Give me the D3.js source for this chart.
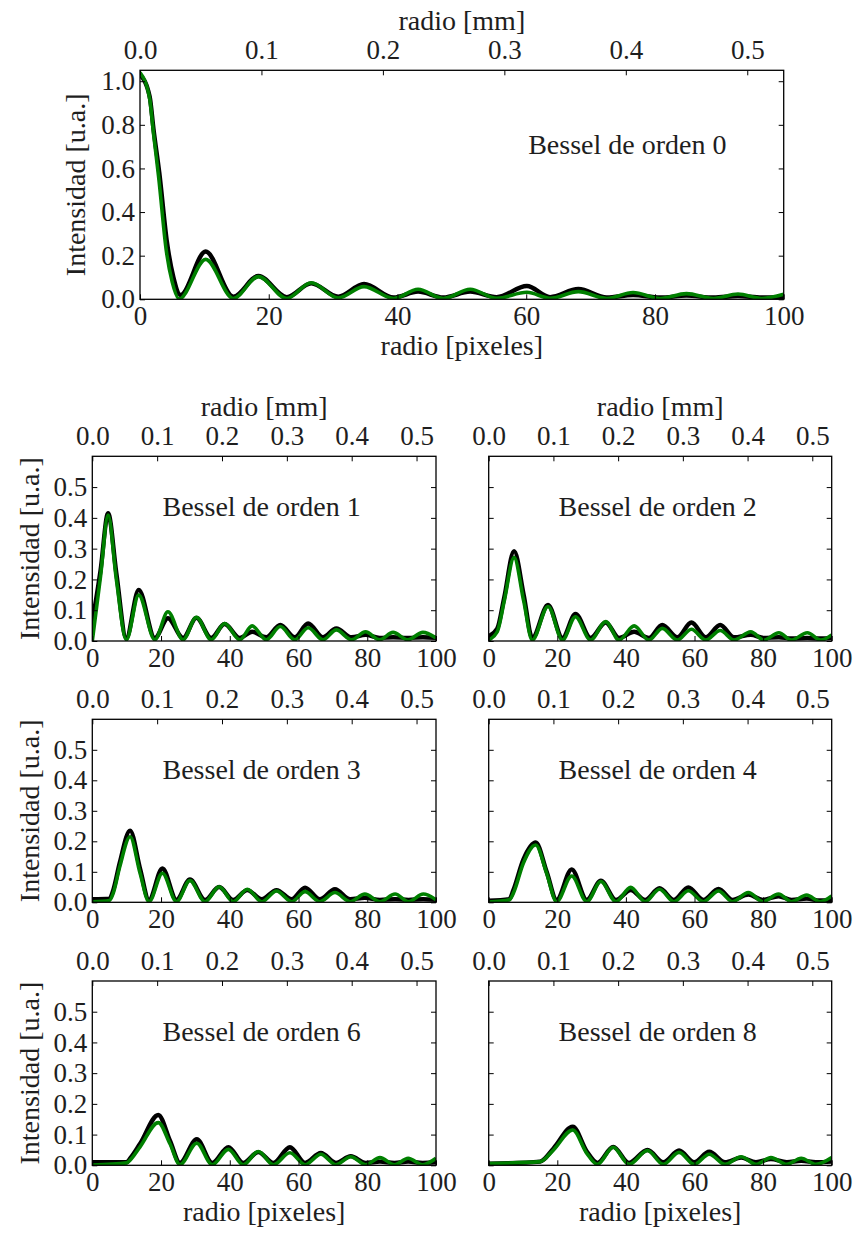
<!DOCTYPE html>
<html><head><meta charset="utf-8">
<script src="https://cdn.jsdelivr.net/npm/d3@7"></script>
<style>
body{margin:0;background:#fff}
svg{display:block}
text{font-family:"Liberation Serif","Times New Roman",serif;fill:#1e1e1e}
</style>
</head><body>
<svg id="chart" width="854" height="1234"></svg>
<script>
// ---------- tick labels ----------
const mmTicks = [0, 0.1, 0.2, 0.3, 0.4, 0.5];
const pxTicks = [0, 20, 40, 60, 80, 100];
const yTicksBig = [0, 0.2, 0.4, 0.6, 0.8, 1.0];
const yTicksSmall = [0, 0.1, 0.2, 0.3, 0.4, 0.5];
const besselOrders = [0, 1, 2, 3, 4, 6, 8];

// ---------- order 0 ----------
const fitR0 = [0, 1.5, 2.1, 2.9, 4.1, 5.0, 6.1, 10.2, 14.5, 18.4, 22.8, 26.6, 30.8, 34.8, 39.4, 43.2, 47.1, 51.3, 55.4, 60.1, 63.7, 68.1, 72.5, 76.6, 80.8, 84.9, 89.1, 92.9, 96.6, 100];
const fitI0 = [1.04, 0.92, 0.76, 0.56, 0.22, 0.08, 0.002, 0.183, 0.004, 0.104, 0.004, 0.076, 0.006, 0.058, 0.004, 0.046, 0.004, 0.046, 0.005, 0.032, 0.005, 0.035, 0.004, 0.031, 0.004, 0.026, 0.004, 0.024, 0.004, 0.023];
const expR0 = [0, 1.5, 2.1, 3.0, 4.2, 5.2, 6.3, 10.2, 14.5, 18.4, 22.8, 26.6, 30.8, 34.8, 39.4, 43.2, 47.1, 51.3, 55.4, 60.1, 63.7, 68.1, 72.5, 76.6, 80.8, 84.9, 89.1, 92.9, 96.6, 100];
const expI0 = [1.03, 0.93, 0.78, 0.58, 0.26, 0.10, 0.02, 0.219, 0.012, 0.107, 0.01, 0.073, 0.012, 0.07, 0.008, 0.035, 0.008, 0.035, 0.01, 0.061, 0.01, 0.047, 0.008, 0.02, 0.008, 0.017, 0.008, 0.015, 0.008, 0.012];

// ---------- order 1 ----------
const fitR1 = [0, 2.4, 4.6, 7.0, 9.9, 13.5, 18.2, 22.0, 26.4, 30.3, 34.6, 38.5, 42.9, 46.5, 50.6, 54.7, 58.9, 62.8, 67.1, 71.0, 75.4, 79.5, 83.6, 87.5, 91.8, 96.2, 100];
const fitI1 = [0, 0.21, 0.409, 0.2, 0.004, 0.149, 0.004, 0.095, 0.004, 0.077, 0.004, 0.057, 0.004, 0.049, 0.004, 0.047, 0.004, 0.043, 0.004, 0.036, 0.004, 0.03, 0.004, 0.028, 0.004, 0.028, 0.01];
const expR1 = fitR1;
const expI1 = [0.06, 0.23, 0.415, 0.22, 0.01, 0.166, 0.01, 0.074, 0.01, 0.075, 0.01, 0.055, 0.01, 0.03, 0.012, 0.052, 0.012, 0.057, 0.012, 0.041, 0.012, 0.02, 0.01, 0.012, 0.01, 0.012, 0.01];

// ---------- order 2 ----------
const fitR2 = [0, 2.5, 4.5, 7.4, 10.2, 12.7, 17.3, 21.5, 25.3, 29.7, 34.1, 38.0, 42.4, 46.7, 50.6, 55.0, 59.1, 63.3, 67.5, 71.5, 76.4, 80.2, 84.6, 88.2, 92.9, 96.8, 100];
const fitI2 = [0.003, 0.03, 0.128, 0.271, 0.13, 0.003, 0.112, 0.003, 0.079, 0.003, 0.063, 0.003, 0.049, 0.003, 0.041, 0.003, 0.038, 0.003, 0.034, 0.003, 0.03, 0.003, 0.027, 0.003, 0.027, 0.003, 0.02];
const expR2 = fitR2;
const expI2 = [0.015, 0.04, 0.14, 0.292, 0.15, 0.01, 0.117, 0.01, 0.088, 0.01, 0.06, 0.01, 0.03, 0.01, 0.052, 0.012, 0.06, 0.012, 0.052, 0.012, 0.02, 0.01, 0.012, 0.008, 0.01, 0.008, 0.01];

// ---------- order 3 ----------
const fitR3 = [0, 5.0, 6.1, 8.0, 11.0, 13.9, 16.5, 20.4, 24.5, 28.4, 32.8, 36.9, 41.0, 45.1, 49.3, 53.6, 58.0, 61.9, 66.2, 70.6, 75.0, 79.3, 83.7, 88.1, 92.0, 96.3, 100];
const fitI3 = [0.002, 0.006, 0.03, 0.117, 0.215, 0.095, 0.002, 0.095, 0.002, 0.071, 0.002, 0.051, 0.002, 0.043, 0.002, 0.037, 0.002, 0.035, 0.002, 0.032, 0.002, 0.027, 0.002, 0.027, 0.002, 0.027, 0.008];
const expR3 = fitR3;
const expI3 = [0.01, 0.012, 0.04, 0.13, 0.235, 0.11, 0.008, 0.111, 0.008, 0.075, 0.008, 0.05, 0.008, 0.04, 0.01, 0.04, 0.01, 0.048, 0.01, 0.043, 0.01, 0.015, 0.008, 0.01, 0.008, 0.01, 0.008];

// ---------- order 4 ----------
const fitR4 = [0, 6.0, 7.2, 10.1, 13.7, 16.9, 19.8, 24.2, 28.6, 32.7, 37.1, 41.4, 45.6, 49.8, 54.0, 58.2, 62.6, 67.0, 71.1, 75.7, 79.9, 84.5, 88.3, 92.7, 96.6, 100];
const fitI4 = [0.001, 0.008, 0.03, 0.128, 0.188, 0.095, 0.002, 0.086, 0.002, 0.068, 0.002, 0.049, 0.002, 0.043, 0.002, 0.038, 0.002, 0.037, 0.002, 0.032, 0.002, 0.027, 0.002, 0.024, 0.002, 0.021];
const expR4 = fitR4;
const expI4 = [0.005, 0.01, 0.04, 0.14, 0.196, 0.1, 0.008, 0.108, 0.008, 0.071, 0.008, 0.04, 0.008, 0.046, 0.008, 0.049, 0.008, 0.044, 0.008, 0.025, 0.008, 0.02, 0.008, 0.012, 0.006, 0.008];

// ---------- order 6 ----------
const fitR6 = [0, 10.0, 11.0, 13.9, 19.2, 22.6, 25.5, 30.4, 34.9, 39.6, 43.9, 48.3, 52.7, 57.5, 61.9, 66.5, 70.9, 75.2, 79.5, 83.7, 87.9, 91.9, 96.1, 100];
const fitI6 = [0.001, 0.008, 0.017, 0.06, 0.139, 0.07, 0.002, 0.072, 0.002, 0.052, 0.002, 0.045, 0.002, 0.041, 0.002, 0.036, 0.002, 0.028, 0.002, 0.025, 0.002, 0.023, 0.002, 0.023];
const expR6 = fitR6;
const expI6 = [0.01, 0.01, 0.022, 0.07, 0.164, 0.08, 0.008, 0.085, 0.008, 0.059, 0.008, 0.043, 0.008, 0.059, 0.008, 0.04, 0.008, 0.03, 0.008, 0.012, 0.008, 0.012, 0.008, 0.01];

// ---------- order 8 ----------
const fitR8 = [0, 15.0, 18.9, 24.5, 28.6, 31.7, 36.3, 40.9, 46.3, 50.9, 55.5, 59.9, 64.3, 68.9, 73.6, 77.9, 82.3, 86.9, 91.1, 95.4, 100];
const fitI8 = [0.006, 0.012, 0.05, 0.115, 0.039, 0.003, 0.059, 0.003, 0.048, 0.003, 0.042, 0.003, 0.036, 0.003, 0.028, 0.003, 0.025, 0.003, 0.023, 0.003, 0.025];
const expR8 = fitR8;
const expI8 = [0.005, 0.012, 0.055, 0.126, 0.045, 0.008, 0.06, 0.008, 0.05, 0.01, 0.048, 0.01, 0.044, 0.01, 0.025, 0.01, 0.02, 0.01, 0.015, 0.01, 0.012];

const fitR = {0: fitR0, 1: fitR1, 2: fitR2, 3: fitR3, 4: fitR4, 6: fitR6, 8: fitR8};
const fitI = {0: fitI0, 1: fitI1, 2: fitI2, 3: fitI3, 4: fitI4, 6: fitI6, 8: fitI8};
const expR = {0: expR0, 1: expR1, 2: expR2, 3: expR3, 4: expR4, 6: expR6, 8: expR8};
const expI = {0: expI0, 1: expI1, 2: expI2, 3: expI3, 4: expI4, 6: expI6, 8: expI8};

// ---------- layout ----------
const layout = [
  {x: 140,   y: 70.3,  w: 643.7, h: 229,   ymax: 1.05, big: true,  yLab: true,  topTitle: true,  botTitle: true,  noteFx: 0.757, noteDy: 84},
  {x: 92.3,  y: 456.3, w: 343.7, h: 184.7, ymax: 0.6,  big: false, yLab: true,  topTitle: true,  botTitle: false},
  {x: 488.7, y: 456.3, w: 343,   h: 184.7, ymax: 0.6,  big: false, yLab: false, topTitle: true,  botTitle: false},
  {x: 92.3,  y: 719.3, w: 343.7, h: 183,   ymax: 0.6,  big: false, yLab: true,  topTitle: false, botTitle: false},
  {x: 488.7, y: 719.3, w: 343,   h: 183,   ymax: 0.6,  big: false, yLab: false, topTitle: false, botTitle: false},
  {x: 92.3,  y: 981,   w: 343.7, h: 184.3, ymax: 0.6,  big: false, yLab: true,  topTitle: false, botTitle: true},
  {x: 488.7, y: 981,   w: 343,   h: 184.3, ymax: 0.6,  big: false, yLab: false, topTitle: false, botTitle: true}
];

const svg = d3.select("#chart");
const FS_TICK = 27, FS_LAB = 28;
const FONT = '"Liberation Serif","Times New Roman",serif';

function styleAxis(g) {
  g.select(".domain").remove();
  g.attr("font-size", FS_TICK).attr("font-family", FONT);
  g.selectAll(".tick line").attr("stroke", "#000").attr("stroke-width", 1);
  g.selectAll(".tick text").attr("fill", "#1e1e1e");
}

besselOrders.forEach((ord, i) => {
  const L = layout[i];
  const g = svg.append("g").attr("transform", `translate(${L.x},${L.y})`);
  const x = d3.scaleLinear().domain([0, 100]).range([0, L.w]);
  const xmm = d3.scaleLinear().domain([0, 0.53]).range([0, L.w]);
  const y = d3.scaleLinear().domain([0, L.ymax]).range([L.h, 0]);

  const clipId = "clip" + i;
  g.append("clipPath").attr("id", clipId).append("rect").attr("width", L.w).attr("height", L.h);

  const line = d3.line().x(d => x(d[0])).y(d => y(d[1])).curve(d3.curveMonotoneX);
  const expData = expR[ord].map((r, k) => [r, expI[ord][k]]);
  const fitData = fitR[ord].map((r, k) => [r, fitI[ord][k]]);

  const plot = g.append("g").attr("clip-path", `url(#${clipId})`);
  plot.append("path").datum(expData).attr("d", line)
    .attr("fill", "none").attr("stroke", "#000").attr("stroke-width", 4.4)
    .attr("stroke-linejoin", "round").attr("stroke-linecap", "round");
  plot.append("path").datum(fitData).attr("d", line)
    .attr("fill", "none").attr("stroke", "#008000").attr("stroke-width", 3.6)
    .attr("stroke-linejoin", "round");

  const yt = L.big ? yTicksBig : yTicksSmall;

  g.append("g").attr("transform", `translate(0,${L.h})`)
    .call(d3.axisBottom(x).tickValues(pxTicks).tickSize(-5).tickPadding(6.5).tickFormat(d3.format("d")))
    .call(styleAxis);
  g.append("g")
    .call(d3.axisTop(xmm).tickValues(mmTicks).tickSize(-5).tickPadding(11.5).tickFormat(d3.format(".1f")))
    .call(styleAxis);
  g.append("g")
    .call(d3.axisLeft(y).tickValues(yt).tickSize(-5).tickPadding(5).tickFormat(L.yLab ? d3.format(".1f") : () => ""))
    .call(styleAxis);
  g.append("g").attr("transform", `translate(${L.w},0)`)
    .call(d3.axisRight(y).tickValues(yt).tickSize(-5).tickFormat(() => ""))
    .call(styleAxis);

  g.append("rect").attr("width", L.w).attr("height", L.h)
    .attr("fill", "none").attr("stroke", "#000").attr("stroke-width", 1.3);

  // annotation
  const nx = L.big ? L.w * L.noteFx : L.w / 2 - 2.5;
  const ny = L.big ? L.noteDy : 60;
  g.append("text").attr("x", nx).attr("y", ny).attr("text-anchor", "middle")
    .attr("font-size", FS_LAB).text("Bessel de orden " + ord);

  if (L.topTitle) {
    g.append("text").attr("x", L.w / 2).attr("y", -40).attr("text-anchor", "middle")
      .attr("font-size", FS_LAB).text("radio [mm]");
  }
  if (L.botTitle) {
    g.append("text").attr("x", L.w / 2).attr("y", L.h + 56).attr("text-anchor", "middle")
      .attr("font-size", FS_LAB).text("radio [pixeles]");
  }
  if (L.yLab) {
    g.append("text").attr("transform", `translate(${L.big ? -55 : -53},${L.h / 2}) rotate(-90)`)
      .attr("text-anchor", "middle").attr("font-size", FS_LAB).text("Intensidad [u.a.]");
  }
});
</script>
</body></html>
